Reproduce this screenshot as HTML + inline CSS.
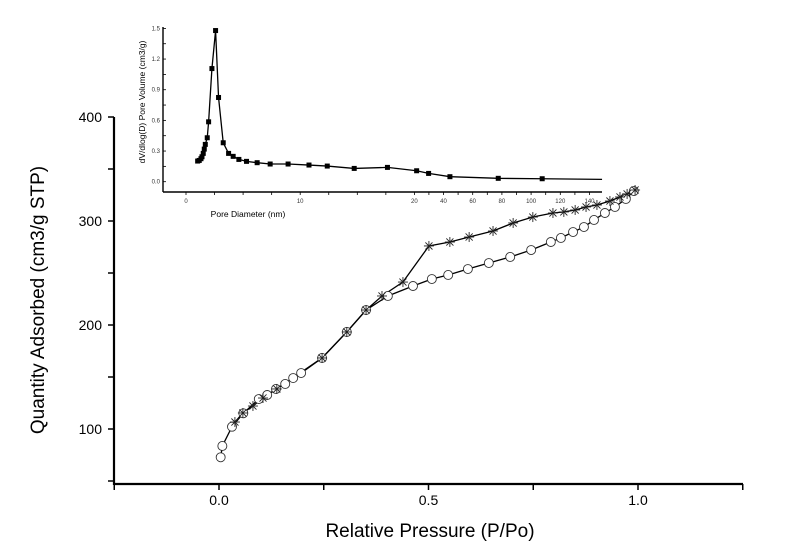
<!DOCTYPE html>
<html><head><meta charset="utf-8"><style>
html,body{margin:0;padding:0;background:#fff;}
svg{display:block;font-family:"Liberation Sans",Arial,sans-serif;}
</style></head><body>
<svg id="chart" width="800" height="554" viewBox="0 0 800 554" xmlns="http://www.w3.org/2000/svg">
<rect width="800" height="554" fill="#fff"/>
<g id="main-axes"></g>
<g id="series"></g>
<g id="inset"></g>
<text x="430" y="537" font-size="19" text-anchor="middle">Relative Pressure (P/Po)</text>
<text transform="translate(44,300) rotate(-90)" font-size="19" text-anchor="middle">Quantity Adsorbed (cm3/g STP)</text>
<text x="248" y="217" font-size="8.5" text-anchor="middle">Pore Diameter (nm)</text>
<text transform="translate(145,102) rotate(-90)" font-size="8.5" text-anchor="middle">dV/dlog(D) Pore Volume (cm3/g)</text>
</svg>
<script>
const xTicks = [0.0, 0.5, 1.0];
const yTicks = [100, 200, 300, 400];
const adsP = [0.004,0.008,0.031,0.058,0.095,0.115,0.136,0.158,0.177,0.196,0.246,0.305,0.351,0.403,0.463,0.508,0.547,0.594,0.644,0.695,0.745,0.792,0.816,0.845,0.871,0.895,0.921,0.945,0.971,0.990];
const adsQ = [72.8,83.7,102.2,115.1,128.8,132.7,138.5,143.3,149.0,153.8,168.3,193.3,214.4,227.9,237.5,244.2,248.1,253.8,259.6,265.4,272.1,279.8,283.7,289.4,294.2,301.0,307.7,313.5,321.2,328.8];
const desP = [0.993,0.974,0.957,0.933,0.902,0.876,0.850,0.823,0.797,0.749,0.702,0.654,0.597,0.551,0.501,0.439,0.389,0.351,0.305,0.246,0.138,0.105,0.081,0.057,0.038];
const desQ = [329.8,326.0,323.1,319.2,315.4,313.5,310.6,308.7,307.7,303.8,298.1,290.4,284.6,279.8,276.0,241.3,227.9,214.4,193.3,168.3,138.5,129.8,122.1,115.4,106.7];
const poreD = [1.02,1.16,1.31,1.40,1.51,1.60,1.69,1.86,1.98,2.27,2.59,2.85,3.26,3.73,4.13,4.63,5.30,6.23,7.37,8.94,10.77,12.37,14.73,17.64,21.6,29.8,44.4,77.5,107.6];
const poreV = [0.202,0.208,0.225,0.244,0.277,0.319,0.365,0.43,0.586,1.107,1.479,0.824,0.381,0.277,0.248,0.218,0.199,0.186,0.173,0.173,0.163,0.153,0.130,0.140,0.107,0.081,0.049,0.033,0.029];
const poreEndD = 148.6, poreEndV = 0.023;
const insetYTicks = [0.0,0.3,0.6,0.9,1.2,1.5];
const insetXTicks = [0,10,20,40,60,80,100,120,140];

const NS="http://www.w3.org/2000/svg";
function mk(tag, attrs, parent){const e=document.createElementNS(NS,tag);for(const k in attrs)e.setAttribute(k,attrs[k]);parent.appendChild(e);return e;}
const X = p => 219 + p*419;
const Y = q => 117 + (400-q)*1.04;
const ax=document.getElementById('main-axes');
let l=mk('line',{x1:114,y1:484,x2:743,y2:484,stroke:'#000','stroke-width':2.2},ax);


l=mk('line',{x1:114,y1:117,x2:114,y2:485,stroke:'#000','stroke-width':2.2},ax);


for(let v=-0.25; v<=1.26; v+=0.25){let t=mk('line',{x1:X(v),y1:484,x2:X(v),y2:490,stroke:'#000','stroke-width':1.5},ax);

}
xTicks.forEach(v=>{let t=mk('text',{x:X(v),y:505,'font-size':14,'text-anchor':'middle'},ax);t.textContent=v.toFixed(1);

});
for(let v=50; v<=400; v+=50){let t=mk('line',{x1:108,y1:Y(v),x2:114,y2:Y(v),stroke:'#000','stroke-width':1.5},ax);

}
yTicks.forEach(v=>{let t=mk('text',{x:102,y:Y(v)+5,'font-size':14,'text-anchor':'end'},ax);t.textContent=v;

});

const sg=document.getElementById('series');
function poly(xs,ys,name){let pts=xs.map((p,i)=>X(p)+','+Y(ys[i])).join(' ');
let pl=mk('polyline',{points:pts,fill:'none',stroke:'#000','stroke-width':1.3},sg);

}
poly(adsP,adsQ,'adsorption-line');
poly(desP,desQ,'desorption-line');
adsP.forEach((p,i)=>{let c=mk('circle',{cx:X(p),cy:Y(adsQ[i]),r:4.5,fill:'#fff',stroke:'#333','stroke-width':0.9},sg);

});
desP.forEach((p,i)=>{const cx=X(p),cy=Y(desQ[i]);let g=mk('g',{stroke:'#222','stroke-width':0.9},sg);


for(let a=0;a<4;a++){const ang=a*Math.PI/4;mk('line',{x1:cx-5*Math.cos(ang),y1:cy-5*Math.sin(ang),x2:cx+5*Math.cos(ang),y2:cy+5*Math.sin(ang)},g);}});

const ins=document.getElementById('inset');
const IX = d => d<=20 ? 186 + d*11.42 : 414.3 + (d-20)*1.46;
const IY = v => 181.7 - v*102.2;
l=mk('line',{x1:163,y1:192,x2:602,y2:192,stroke:'#000','stroke-width':1.4},ins);


l=mk('line',{x1:163,y1:27,x2:163,y2:192,stroke:'#000','stroke-width':1.4},ins);


for(let v=0; v<=1.51; v+=0.15){let t=mk('line',{x1:163,y1:IY(v),x2:166,y2:IY(v),stroke:'#000','stroke-width':0.8},ins);

}
insetYTicks.forEach(v=>{let t=mk('text',{x:160,y:IY(v)+2,'font-size':6,'text-anchor':'end',fill:'#333'},ins);t.textContent=v.toFixed(1);

});
for(let d=0; d<=20; d+=2.5){let t=mk('line',{x1:IX(d),y1:192,x2:IX(d),y2:195,stroke:'#000','stroke-width':0.8},ins);

}
for(let d=30; d<=140; d+=10){let t=mk('line',{x1:IX(d),y1:192,x2:IX(d),y2:195,stroke:'#000','stroke-width':0.8},ins);

}
insetXTicks.forEach(d=>{let t=mk('text',{x:IX(d),y:203,'font-size':6,'text-anchor':'middle',fill:'#333'},ins);t.textContent=d;

});
let ipts=poreD.map((d,i)=>IX(d)+','+IY(poreV[i])).join(' ')+' '+IX(poreEndD)+','+IY(poreEndV);
let ipl=mk('polyline',{points:ipts,fill:'none',stroke:'#000','stroke-width':1.3},ins);


poreD.forEach((d,i)=>{let r=mk('rect',{x:IX(d)-2.5,y:IY(poreV[i])-2.5,width:5,height:5,fill:'#000'},ins);

});
</script>
</body></html>
